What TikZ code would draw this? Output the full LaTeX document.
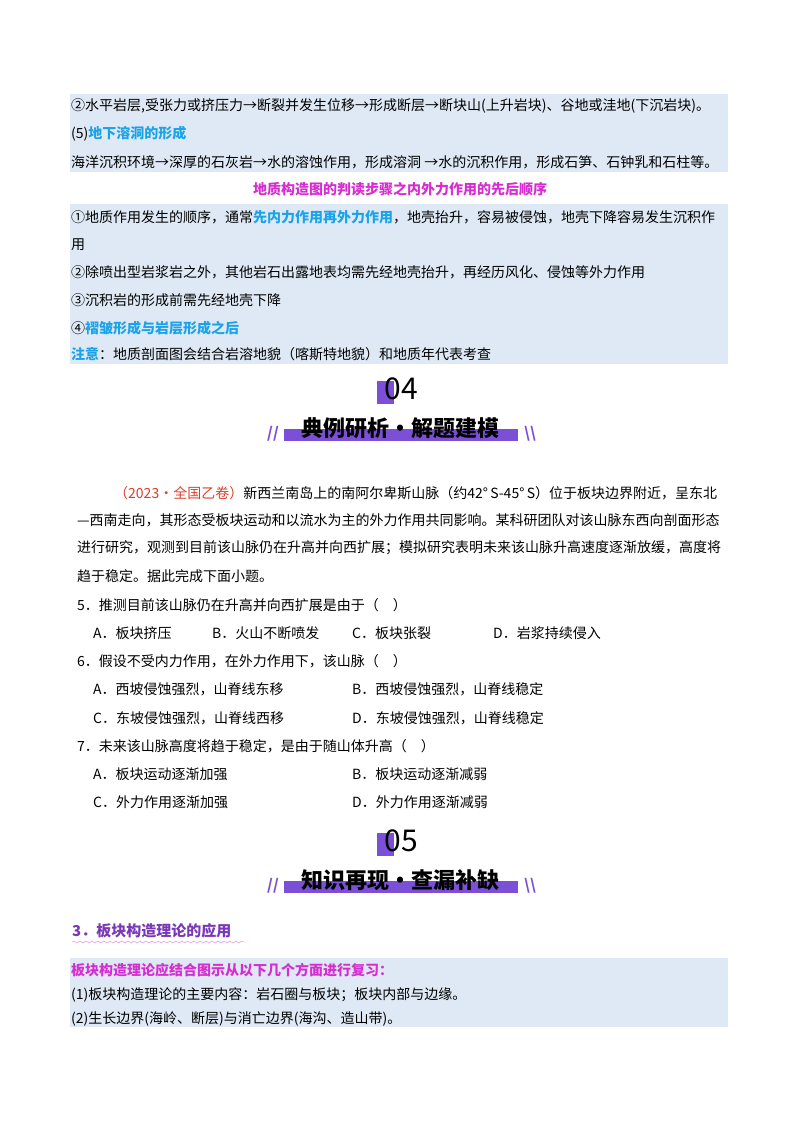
\documentclass[tikz,border=0pt]{standalone}
\usepackage{fontspec}
\setmainfont{Noto Sans CJK SC}
\usetikzlibrary{decorations.pathmorphing}
\definecolor{bgb}{HTML}{DEE9F5}
\definecolor{cyanb}{HTML}{1AA3E8}
\definecolor{mag}{HTML}{D62DD0}
\definecolor{purp}{HTML}{7B4FD6}
\definecolor{ttl}{HTML}{7A38B8}
\definecolor{red1}{HTML}{D9402B}
\begin{document}
\begin{tikzpicture}[x=1pt,y=-1pt,
  t/.style={anchor=west,inner sep=0pt,font=\fontsize{14}{14}\selectfont},
  sl/.style={inner sep=0pt,text=purp,font=\bfseries\fontsize{15}{15}\selectfont}]
\useasboundingbox (0,0) rectangle (800,1132);
\fill[white] (0,0) rectangle (800,1132);
% box1
\fill[bgb] (70,94) rectangle (728,172);
\node[t] (a1) at (71,106) {②水平岩层,受张力或挤压力→断裂并发生位移→形成断层→断块山(上升岩块)、谷地或洼地(下沉岩块)。};
\node[t] (a2) at (71,134) {(5)\textcolor{cyanb}{\bfseries 地下溶洞的形成}};
\node[t] (a3) at (71,162) {海洋沉积环境→深厚的石灰岩→水的溶蚀作用，形成溶洞 →水的沉积作用，形成石笋、石钟乳和石柱等。};
\node[t,anchor=center,text=mag,font=\bfseries\fontsize{14}{14}\selectfont] (tt) at (400,189) {地质构造图的判读步骤之内外力作用的先后顺序};
% box2
\fill[bgb] (70,204) rectangle (728,364);
\node[t] (b1) at (71,217) {①地质作用发生的顺序，通常\textcolor{cyanb}{\bfseries 先内力作用再外力作用}，地壳抬升，容易被侵蚀，地壳下降容易发生沉积作};
\node[t] (b2) at (71,245) {用};
\node[t] (b3) at (71,272) {②除喷出型岩浆岩之外，其他岩石出露地表均需先经地壳抬升，再经历风化、侵蚀等外力作用};
\node[t] (b4) at (71,300) {③沉积岩的形成前需先经地壳下降};
\node[t] (b5) at (71,328) {④\textcolor{cyanb}{\bfseries 褶皱形成与岩层形成之后}};
\node[t] (b6) at (71,354) {\textcolor{cyanb}{\bfseries 注意}：地质剖面图会结合岩溶地貌（喀斯特地貌）和地质年代表考查};
% header 04
\fill[purp] (377,381) rectangle (394,404);
\node[inner sep=0pt,font=\fontsize{30}{30}\selectfont] (n4) at (401,389) {04};
\fill[purp] (284,429) rectangle (518,441);
\node[inner sep=0pt,font=\bfseries\fontsize{22}{22}\selectfont] (h4) at (400,428) {典例研析•解题建模};
\node[sl] (s1) at (273,434) {//};
\node[sl] (s2) at (530,434) {\textbackslash\textbackslash};
% question
\node[t] (q1) at (114,493) {\textcolor{red1}{（2023·全国乙卷）}新西兰南岛上的南阿尔卑斯山脉（约42°\,S-45°\,S）位于板块边界附近，呈东北};
\node[t] (q2) at (77,520) {—西南走向，其形态受板块运动和以流水为主的外力作用共同影响。某科研团队对该山脉东西向剖面形态};
\node[t] (q3) at (77,548) {进行研究，观测到目前该山脉仍在升高并向西扩展；模拟研究表明未来该山脉升高速度逐渐放缓，高度将};
\node[t] (q4) at (77,576) {趋于稳定。据此完成下面小题。};
\node[t] (q5) at (77,605) {5．推测目前该山脉仍在升高并向西扩展是由于（\quad ）};
\node[t] (o5a) at (93,633) {A．板块挤压};
\node[t] (o5b) at (212,633) {B．火山不断喷发};
\node[t] (o5c) at (352,633) {C．板块张裂};
\node[t] (o5d) at (493,633) {D．岩浆持续侵入};
\node[t] (q6) at (77,661) {6．假设不受内力作用，在外力作用下，该山脉（\quad ）};
\node[t] (o6a) at (93,689) {A．西坡侵蚀强烈，山脊线东移};
\node[t] (o6b) at (352,689) {B．西坡侵蚀强烈，山脊线稳定};
\node[t] (o6c) at (93,718) {C．东坡侵蚀强烈，山脊线西移};
\node[t] (o6d) at (352,718) {D．东坡侵蚀强烈，山脊线稳定};
\node[t] (q7) at (77,746) {7．未来该山脉高度将趋于稳定，是由于随山体升高（\quad ）};
\node[t] (o7a) at (93,774) {A．板块运动逐渐加强};
\node[t] (o7b) at (352,774) {B．板块运动逐渐减弱};
\node[t] (o7c) at (93,802) {C．外力作用逐渐加强};
\node[t] (o7d) at (352,802) {D．外力作用逐渐减弱};
% header 05
\fill[purp] (377,833) rectangle (394,856);
\node[inner sep=0pt,font=\fontsize{30}{30}\selectfont] (n5) at (401,841) {05};
\fill[purp] (284,881) rectangle (518,893);
\node[inner sep=0pt,font=\bfseries\fontsize{22}{22}\selectfont] (h5) at (400,880) {知识再现•查漏补缺};
\node[sl] (s3) at (273,886) {//};
\node[sl] (s4) at (530,886) {\textbackslash\textbackslash};
% section 3
\node[t,text=ttl,font=\bfseries\fontsize{15}{15}\selectfont] (sec) at (72,931) {3．板块构造理论的应用};
\draw[mag!60,decorate,decoration={snake,amplitude=1pt,segment length=6pt}] (72,942) -- (246,942);
\fill[bgb] (70,958) rectangle (728,1027);
\node[t,text=mag,font=\bfseries\fontsize{14}{14}\selectfont] (c1) at (71,970) {板块构造理论应结合图示从以下几个方面进行复习：};
\node[t] (c2) at (71,995) {(1)板块构造理论的主要内容：岩石圈与板块；板块内部与边缘。};
\node[t] (c3) at (71,1019) {(2)生长边界(海岭、断层)与消亡边界(海沟、造山带)。};
\end{tikzpicture}
\end{document}
